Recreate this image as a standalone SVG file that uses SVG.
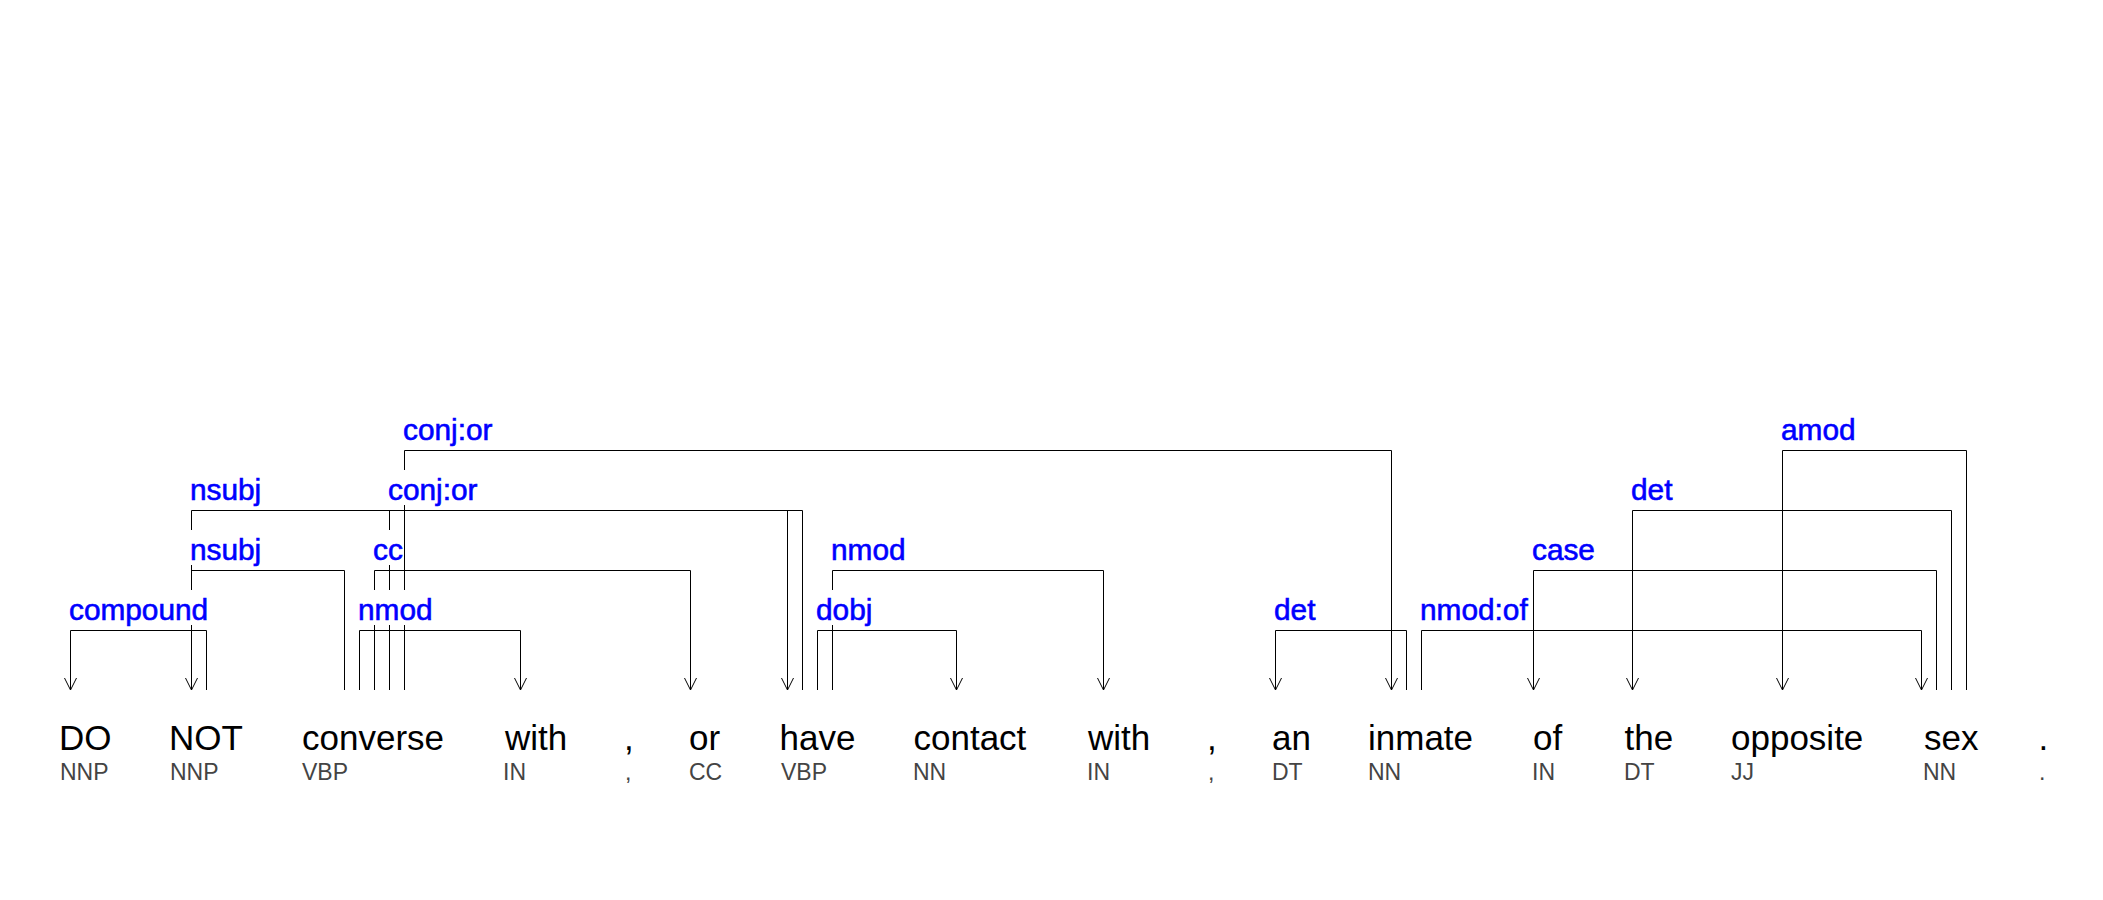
<svg xmlns="http://www.w3.org/2000/svg" width="2103" height="900" viewBox="0 0 2103 900">
<style>
.w{font-family:"Liberation Sans",Arial,sans-serif;font-size:35px;fill:#000}
.t{font-family:"Liberation Sans",Arial,sans-serif;font-size:23px;fill:#444}
.l{font-family:"Liberation Sans",Arial,sans-serif;font-size:29.8px;fill:#0000ff;stroke:#0000ff;stroke-width:0.6}
.bg{fill:#fff}
.e{fill:none;stroke:#000;stroke-width:1}
</style>
<defs>
<path id="ah" d="M-6,-12 L0,0 L6,-12" fill="none" stroke="#000" stroke-width="1"/>
</defs>
<rect x="0" y="0" width="2103" height="900" fill="#fff"/>
<g id="connectors">
<path class="e" d="M206.5,690 V630.5 H70.5 V690"/><use href="#ah" x="70.5" y="690"/>
<path class="e" d="M344.5,690 V570.5 H191.5 V690"/><use href="#ah" x="191.5" y="690"/>
<path class="e" d="M802.5,690 V510.5 H191.5 V690"/>
<path class="e" d="M359.5,690 V630.5 H520.5 V690"/><use href="#ah" x="520.5" y="690"/>
<path class="e" d="M374.5,690 V570.5 H690.5 V690"/><use href="#ah" x="690.5" y="690"/>
<path class="e" d="M389.5,690 V510.5 H787.5 V690"/><use href="#ah" x="787.5" y="690"/>
<path class="e" d="M404.5,690 V450.5 H1391.5 V690"/><use href="#ah" x="1391.5" y="690"/>
<path class="e" d="M817.5,690 V630.5 H956.5 V690"/><use href="#ah" x="956.5" y="690"/>
<path class="e" d="M832.5,690 V570.5 H1103.5 V690"/><use href="#ah" x="1103.5" y="690"/>
<path class="e" d="M1406.5,690 V630.5 H1275.5 V690"/><use href="#ah" x="1275.5" y="690"/>
<path class="e" d="M1421.5,690 V630.5 H1921.5 V690"/><use href="#ah" x="1921.5" y="690"/>
<path class="e" d="M1936.5,690 V570.5 H1533.5 V690"/><use href="#ah" x="1533.5" y="690"/>
<path class="e" d="M1951.5,690 V510.5 H1632.5 V690"/><use href="#ah" x="1632.5" y="690"/>
<path class="e" d="M1966.5,690 V450.5 H1782.5 V690"/><use href="#ah" x="1782.5" y="690"/>
</g>
<g id="labels">
<g id="lab-compound"><rect class="bg" x="69" y="590" width="140" height="35"/><text class="l" x="69" y="620">compound</text></g>
<g id="lab-nsubj1"><rect class="bg" x="190" y="530" width="71" height="35"/><text class="l" x="190" y="560">nsubj</text></g>
<g id="lab-nsubj2"><rect class="bg" x="190" y="470" width="71" height="35"/><text class="l" x="190" y="500">nsubj</text></g>
<g id="lab-nmod1"><rect class="bg" x="358" y="590" width="74" height="35"/><text class="l" x="358" y="620">nmod</text></g>
<g id="lab-cc"><rect class="bg" x="373" y="530" width="29.5" height="35"/><text class="l" x="373" y="560">cc</text></g>
<g id="lab-conj1"><rect class="bg" x="388" y="470" width="89" height="35"/><text class="l" x="388" y="500">conj:or</text></g>
<g id="lab-conj2"><rect class="bg" x="403" y="410" width="89" height="35"/><text class="l" x="403" y="440">conj:or</text></g>
<g id="lab-dobj"><rect class="bg" x="816" y="590" width="56" height="35"/><text class="l" x="816" y="620">dobj</text></g>
<g id="lab-nmod2"><rect class="bg" x="831" y="530" width="74" height="35"/><text class="l" x="831" y="560">nmod</text></g>
<g id="lab-det1"><rect class="bg" x="1274" y="590" width="41" height="35"/><text class="l" x="1274" y="620">det</text></g>
<g id="lab-nmodof"><rect class="bg" x="1420" y="590" width="107" height="35"/><text class="l" x="1420" y="620">nmod:of</text></g>
<g id="lab-case"><rect class="bg" x="1532" y="530" width="63" height="35"/><text class="l" x="1532" y="560">case</text></g>
<g id="lab-det2"><rect class="bg" x="1631" y="470" width="41" height="35"/><text class="l" x="1631" y="500">det</text></g>
<g id="lab-amod"><rect class="bg" x="1781" y="410" width="74" height="35"/><text class="l" x="1781" y="440">amod</text></g>
</g>
<g id="w1"><text class="w" x="59" y="750">DO</text><text class="t" x="60" y="780">NNP</text></g>
<g id="w2"><text class="w" x="169" y="750">NOT</text><text class="t" x="170" y="780">NNP</text></g>
<g id="w3"><text class="w" x="302" y="750">converse</text><text class="t" x="302" y="780">VBP</text></g>
<g id="w4"><text class="w" x="505" y="750">with</text><text class="t" x="503" y="780">IN</text></g>
<g id="w5"><text class="w" x="624" y="750">,</text><text class="t" x="625" y="780">,</text></g>
<g id="w6"><text class="w" x="689" y="750">or</text><text class="t" x="689" y="780">CC</text></g>
<g id="w7"><text class="w" x="779.5" y="750">have</text><text class="t" x="781" y="780">VBP</text></g>
<g id="w8"><text class="w" x="913.5" y="750">contact</text><text class="t" x="913" y="780">NN</text></g>
<g id="w9"><text class="w" x="1088" y="750">with</text><text class="t" x="1087" y="780">IN</text></g>
<g id="w10"><text class="w" x="1207" y="750">,</text><text class="t" x="1208" y="780">,</text></g>
<g id="w11"><text class="w" x="1272" y="750">an</text><text class="t" x="1272" y="780">DT</text></g>
<g id="w12"><text class="w" x="1368" y="750">inmate</text><text class="t" x="1368" y="780">NN</text></g>
<g id="w13"><text class="w" x="1533" y="750">of</text><text class="t" x="1532" y="780">IN</text></g>
<g id="w14"><text class="w" x="1624.5" y="750">the</text><text class="t" x="1624" y="780">DT</text></g>
<g id="w15"><text class="w" x="1731" y="750">opposite</text><text class="t" x="1731" y="780">JJ</text></g>
<g id="w16"><text class="w" x="1924" y="750">sex</text><text class="t" x="1923" y="780">NN</text></g>
<g id="w17"><text class="w" x="2038.5" y="750">.</text><text class="t" x="2039" y="780">.</text></g>
</svg>
